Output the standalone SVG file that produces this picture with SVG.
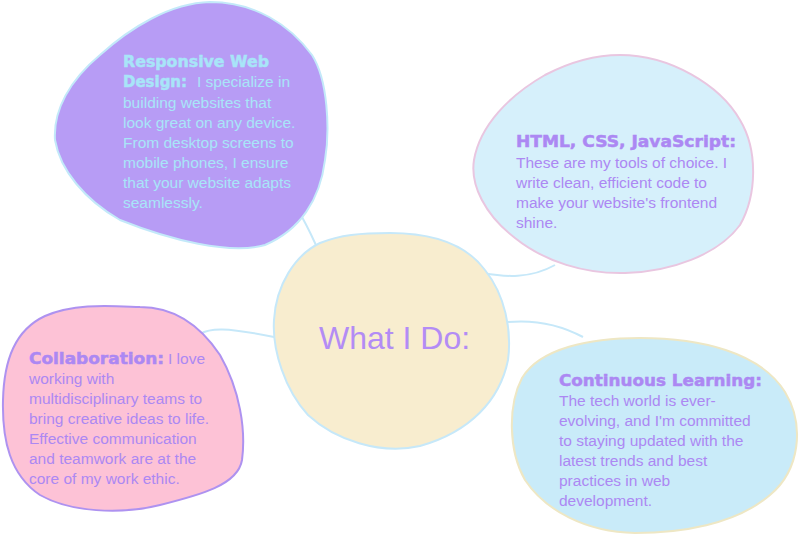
<svg xmlns="http://www.w3.org/2000/svg" width="800" height="536" viewBox="0 0 800 536">
<style>
.conn{fill:none;stroke:#C6E8F9;stroke-width:2}
.blob{stroke-width:2}
.body{font-family:"Liberation Sans",Arial,sans-serif;font-size:15.5px}
.head{font-family:"DejaVu Sans",sans-serif;font-weight:bold;font-size:16px;stroke-width:0.5}
.purple{fill:#AC88F3}
.cyan{fill:#A8E5F8}
</style>
<rect width="800" height="536" fill="#FFFFFF"/>
<g id="connectors">
<path class="conn" d="M302,217 C308,228 313,238 318,250"/>
<path class="conn" d="M483,273 C505,277 530,279 555,265"/>
<path class="conn" d="M200,334 C210,328 225,327 274,337"/>
<path class="conn" d="M508,322 C530,320 555,322 583,337"/>
</g>
<g id="node-responsive">
<path class="blob" fill="#B79CF5" stroke="#C3E9F9" d="M210,2 C255,2 290,25 312,55 C328,80 330,130 325,160 C320,200 300,230 265,245 C230,255 170,240 120,220 C85,200 60,170 55,140 C53,110 70,80 100,55 C130,28 170,3 210,2 Z"/>
<text class="head cyan" stroke="#A8E5F8" x="123" y="67" textLength="146" lengthAdjust="spacingAndGlyphs">Responsive Web</text>
<text class="head cyan" stroke="#A8E5F8" x="123" y="87" textLength="64" lengthAdjust="spacingAndGlyphs">Design:</text>
<text class="body cyan"><tspan x="197" y="87">I specialize in</tspan><tspan x="123" y="108">building websites that</tspan><tspan x="123" y="128">look great on any device.</tspan><tspan x="123" y="148">From desktop screens to</tspan><tspan x="123" y="168">mobile phones, I ensure</tspan><tspan x="123" y="188">that your website adapts</tspan><tspan x="123" y="208">seamlessly.</tspan></text>
</g>
<g id="node-html">
<path class="blob" fill="#D6F0FB" stroke="#E9C6E0" d="M620,55 C670,55 720,85 740,120 C758,150 757,195 740,225 C718,255 670,272 625,273 C585,274 545,262 515,238 C485,215 470,185 474,160 C480,125 510,95 545,75 C570,62 595,55 620,55 Z"/>
<text class="head purple" stroke="#AC88F3" x="516" y="147" textLength="220" lengthAdjust="spacingAndGlyphs">HTML, CSS, JavaScript:</text>
<text class="body purple"><tspan x="516" y="168">These are my tools of choice. I</tspan><tspan x="516" y="188">write clean, efficient code to</tspan><tspan x="516" y="208">make your website's frontend</tspan><tspan x="516" y="228">shine.</tspan></text>
</g>
<g id="node-center">
<path class="blob" fill="#F8EDCF" stroke="#C6E8F9" d="M390,233 C430,233 465,243 485,270 C505,295 512,330 508,360 C500,400 470,432 420,446 C380,455 335,440 308,415 C285,390 272,350 274,320 C276,285 295,255 320,243 C340,235 360,233 390,233 Z"/>
<text x="319" y="349" font-family="Liberation Sans, Arial, sans-serif" font-size="32" fill="#B38CF5">What I Do:</text>
</g>
<g id="node-collaboration">
<path class="blob" fill="#FDC2D6" stroke="#AE92F0" d="M140,307 C175,307 200,325 220,355 C240,390 246,430 242,460 C238,485 200,495 160,505 C120,515 70,512 40,495 C10,475 2,440 3,400 C4,360 15,330 45,316 C75,303 110,306 140,307 Z"/>
<text class="head purple" stroke="#AC88F3" x="29" y="364" textLength="135" lengthAdjust="spacingAndGlyphs">Collaboration:</text>
<text class="body purple"><tspan x="168" y="364">I love</tspan><tspan x="29" y="384">working with</tspan><tspan x="29" y="404">multidisciplinary teams to</tspan><tspan x="29" y="424">bring creative ideas to life.</tspan><tspan x="29" y="444">Effective communication</tspan><tspan x="29" y="464">and teamwork are at the</tspan><tspan x="29" y="484">core of my work ethic.</tspan></text>
</g>
<g id="node-learning">
<path class="blob" fill="#C9EBF9" stroke="#EEE7C4" d="M640,338 C700,338 760,352 785,392 C805,425 800,470 770,495 C735,525 680,533 635,533 C585,532 545,510 525,480 C508,450 508,405 522,378 C540,348 590,338 640,338 Z"/>
<text class="head purple" stroke="#AC88F3" x="559" y="386" textLength="203" lengthAdjust="spacingAndGlyphs">Continuous Learning:</text>
<text class="body purple"><tspan x="559" y="406">The tech world is ever-</tspan><tspan x="559" y="426">evolving, and I'm committed</tspan><tspan x="559" y="446">to staying updated with the</tspan><tspan x="559" y="466">latest trends and best</tspan><tspan x="559" y="486">practices in web</tspan><tspan x="559" y="506">development.</tspan></text>
</g>
</svg>
